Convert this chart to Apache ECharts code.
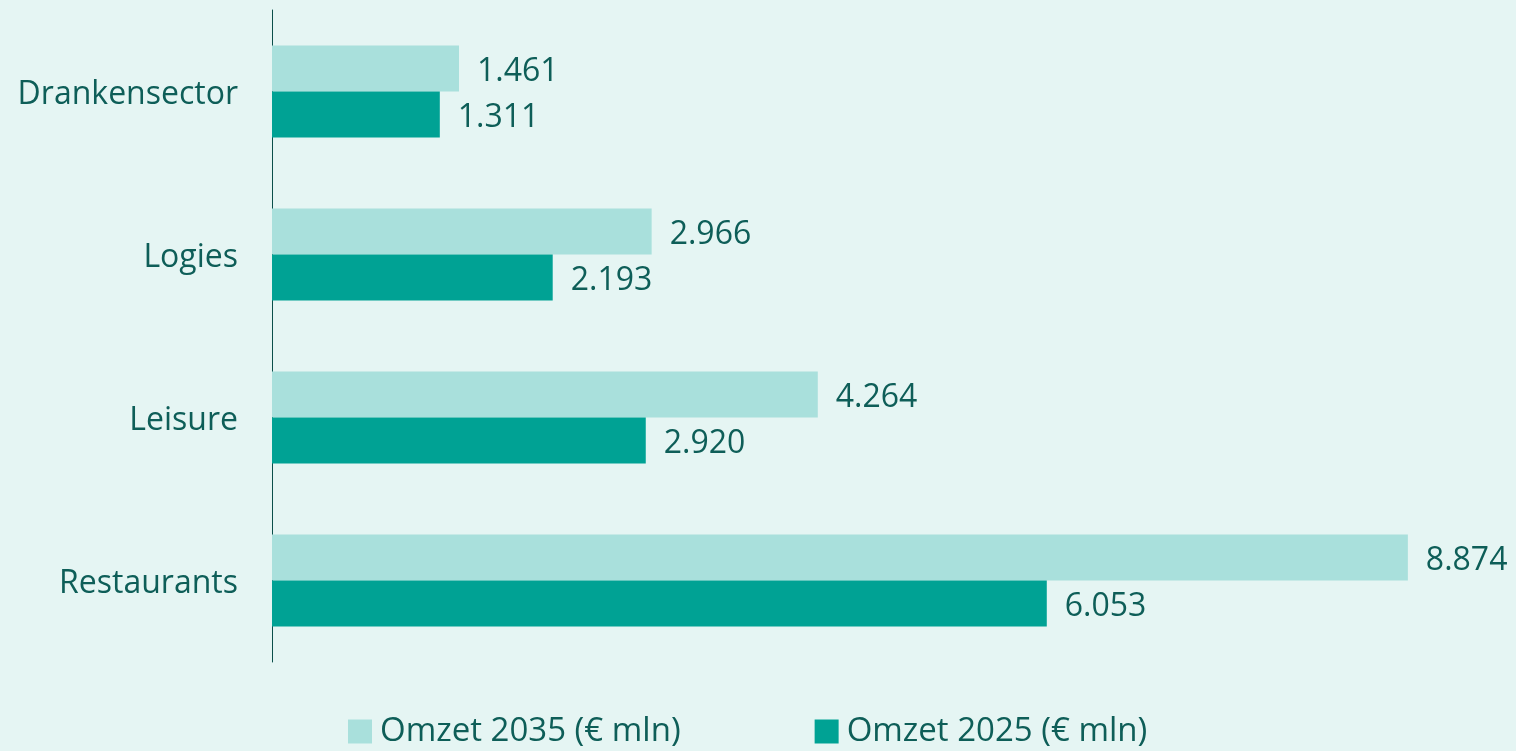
<!DOCTYPE html>
<html>
<head>
<meta charset="utf-8">
<script src="https://cdn.jsdelivr.net/npm/echarts@6/dist/echarts.min.js"></script>
<style>
html,body{margin:0;padding:0;background:#e5f5f3;}
#chart{width:1516px;height:751px;}
</style>
</head>
<body>
<div id="chart"></div>
<script>
var categories = ['Drankensector', 'Logies', 'Leisure', 'Restaurants'];
var seriesNames = ['Omzet 2035 (€ mln)', 'Omzet 2025 (€ mln)'];
var omzet2035 = [1461, 2966, 4264, 8874];
var omzet2025 = [1311, 2193, 2920, 6053];

var textColor = '#0e5e58';
var font = '"Open Sans", sans-serif';

function fmt(v) {
  return String(v).replace(/\B(?=(\d{3})+(?!\d))/g, '.');
}

var chart = echarts.init(document.getElementById('chart'), null, {renderer: 'canvas'});
chart.setOption({
  backgroundColor: '#e5f5f3',
  animation: false,
  grid: {left: 272, right: 92, top: 10, bottom: 89, containLabel: false},
  xAxis: {
    type: 'value', min: 0, max: 9000,
    show: false,
    splitLine: {show: false}
  },
  yAxis: {
    type: 'category',
    data: categories,
    inverse: true,
    axisLine: {show: true, lineStyle: {color: '#0b4f4a', width: 1}},
    axisTick: {show: false},
    axisLabel: {
      margin: 34,
      formatter: function (v) { return '{c|' + v + '}'; },
      rich: {c: {color: textColor, fontSize: 32, fontFamily: font, padding: [6, 0, 0, 0]}}
    }
  },
  legend: {
    data: seriesNames,
    left: 348, top: 715,
    padding: 0,
    icon: 'rect',
    itemWidth: 24, itemHeight: 24,
    itemGap: 134,
    textStyle: {color: textColor, fontSize: 33, fontFamily: font, padding: [0, 0, 0, 3]}
  },
  series: [
    {
      name: seriesNames[0], type: 'bar', data: omzet2035,
      barWidth: 46, barGap: '0%',
      itemStyle: {color: '#a9e0dc'},
      label: {show: true, position: 'right', distance: 18, offset: [0, 3], color: textColor, fontSize: 32, fontFamily: font, formatter: function(p){return fmt(p.value);}}
    },
    {
      name: seriesNames[1], type: 'bar', data: omzet2025,
      barWidth: 46, barGap: '0%',
      itemStyle: {color: '#00a294'},
      label: {show: true, position: 'right', distance: 18, offset: [0, 3], color: textColor, fontSize: 32, fontFamily: font, formatter: function(p){return fmt(p.value);}}
    }
  ]
});
</script>
</body>
</html>
